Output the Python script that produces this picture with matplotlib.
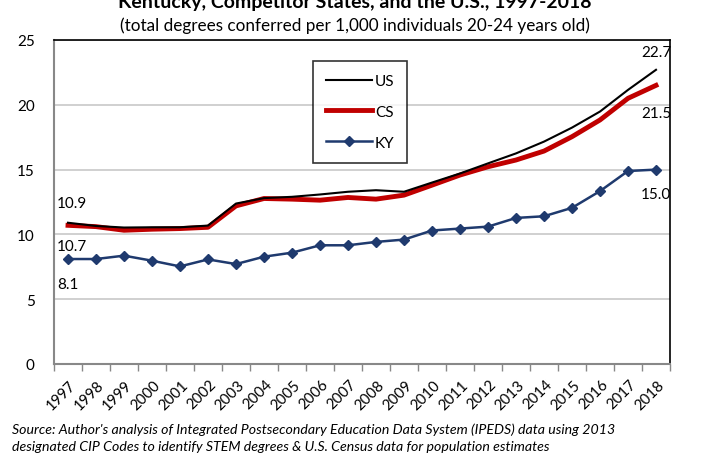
import matplotlib
matplotlib.use("Agg")
import matplotlib.pyplot as plt
from matplotlib.transforms import ScaledTranslation
import numpy as np

years = [str(y) for y in range(1997, 2019)]
us = [10.9, 10.65, 10.53, 10.55, 10.55, 10.68, 12.38, 12.8, 12.9, 13.08, 13.29, 13.41,
      13.29, 14.0, 14.7, 15.48, 16.25, 17.16, 18.24, 19.48, 21.15, 22.7]
cs = [10.7, 10.6, 10.32, 10.4, 10.45, 10.55, 12.2, 12.77, 12.72, 12.64, 12.85, 12.72,
      13.03, 13.8, 14.58, 15.22, 15.74, 16.43, 17.54, 18.83, 20.5, 21.5]
ky = [8.1, 8.1, 8.36, 7.97, 7.53, 8.07, 7.71, 8.28, 8.59, 9.16, 9.16, 9.42,
      9.6, 10.3, 10.45, 10.6, 11.27, 11.4, 12.05, 13.34, 14.89, 15.0]
yticks = [0, 5, 10, 15, 20, 25]

title = "Kentucky, Competitor States, and the U.S., 1997-2018"
subtitle = "(total degrees conferred per 1,000 individuals 20-24 years old)"
source = ("Source: Author's analysis of Integrated Postsecondary Education Data System (IPEDS) data using 2013\n"
          "designated CIP Codes to identify STEM degrees & U.S. Census data for population estimates")

plt.rcParams['font.family'] = ['Lato', 'DejaVu Sans']

fig = plt.figure(figsize=(7.1, 4.56), dpi=100)
ax = fig.add_axes([54/710, 1-365/456, (670-54)/710, (365-41)/456])

x = np.arange(len(years))
ax.plot(x, us, color='black', lw=1.5, label='US', zorder=3)
ax.plot(x, cs, color='#c00000', lw=3.5, label='CS', zorder=2)
ax.plot(x, ky, color='#1f3a6e', lw=1.8, marker='D', ms=5, label='KY', zorder=4)

ax.set_xlim(-0.5, len(years) - 0.5)
ax.set_ylim(0, 25)
ax.set_yticks(yticks)
ax.set_yticklabels([str(v) for v in yticks], fontsize=11)
ax.tick_params(axis='y', length=0, pad=14)
ax.yaxis.grid(True, color='#c8c8c8', lw=1.2)
ax.set_axisbelow(True)

ax.set_xticks(x)
ax.set_xticklabels(years, rotation=45, ha='right', va='center',
                   rotation_mode='anchor', fontsize=10.8)
ax.tick_params(axis='x', length=0, pad=13)
shift = ScaledTranslation(6/100, 0, fig.dpi_scale_trans)
for lbl in ax.get_xticklabels():
    lbl.set_transform(lbl.get_transform() + shift)
ax.set_xticks(np.arange(-0.5, len(years)), minor=True)
ax.tick_params(axis='x', which='minor', length=5, color='#888888', width=1)

for s in ['left', 'bottom']:
    ax.spines[s].set_color('#888888')
    ax.spines[s].set_linewidth(1.5)
for s in ['top', 'right']:
    ax.spines[s].set_color('black')
    ax.spines[s].set_linewidth(1.2)

# data labels
ax.text(0.0 - 0.4, us[0] + 1.5, f"{us[0]:.1f}", fontsize=11, ha='left', va='center')
ax.text(0.0 - 0.4, cs[0] - 1.6, f"{cs[0]:.1f}", fontsize=11, ha='left', va='center')
ax.text(0.0 - 0.4, ky[0] - 1.9, f"{ky[0]:.1f}", fontsize=11, ha='left', va='center')
n = len(years) - 1
ax.text(n, us[n] + 1.4, f"{us[n]:.1f}", fontsize=11, ha='center', va='center')
ax.text(n, cs[n] - 2.1, f"{cs[n]:.1f}", fontsize=11, ha='center', va='center')
ax.text(n, ky[n] - 1.9, f"{ky[n]:.1f}", fontsize=11, ha='center', va='center')

leg = ax.legend(loc='upper left', bbox_to_anchor=((313-54)/616, 1-(62-41)/324),
                frameon=True, fancybox=False, edgecolor='black', fontsize=11,
                handlelength=3.0, labelspacing=1.1, borderpad=0.85, handletextpad=0.2,
                borderaxespad=0)
leg.get_frame().set_linewidth(1.2)

fig.text(0.5, 1.0 + 6/456, title, ha='center', va='top', fontsize=14, fontweight='bold')
fig.text(0.5, 1 - 26/456, subtitle, ha='center', va='center', fontsize=12.3)
fig.text(12/710, 1 - 438/456, source, ha='left', va='center', fontsize=10.2,
         style='italic', linespacing=1.5)

fig.savefig('out.png', dpi=100)
